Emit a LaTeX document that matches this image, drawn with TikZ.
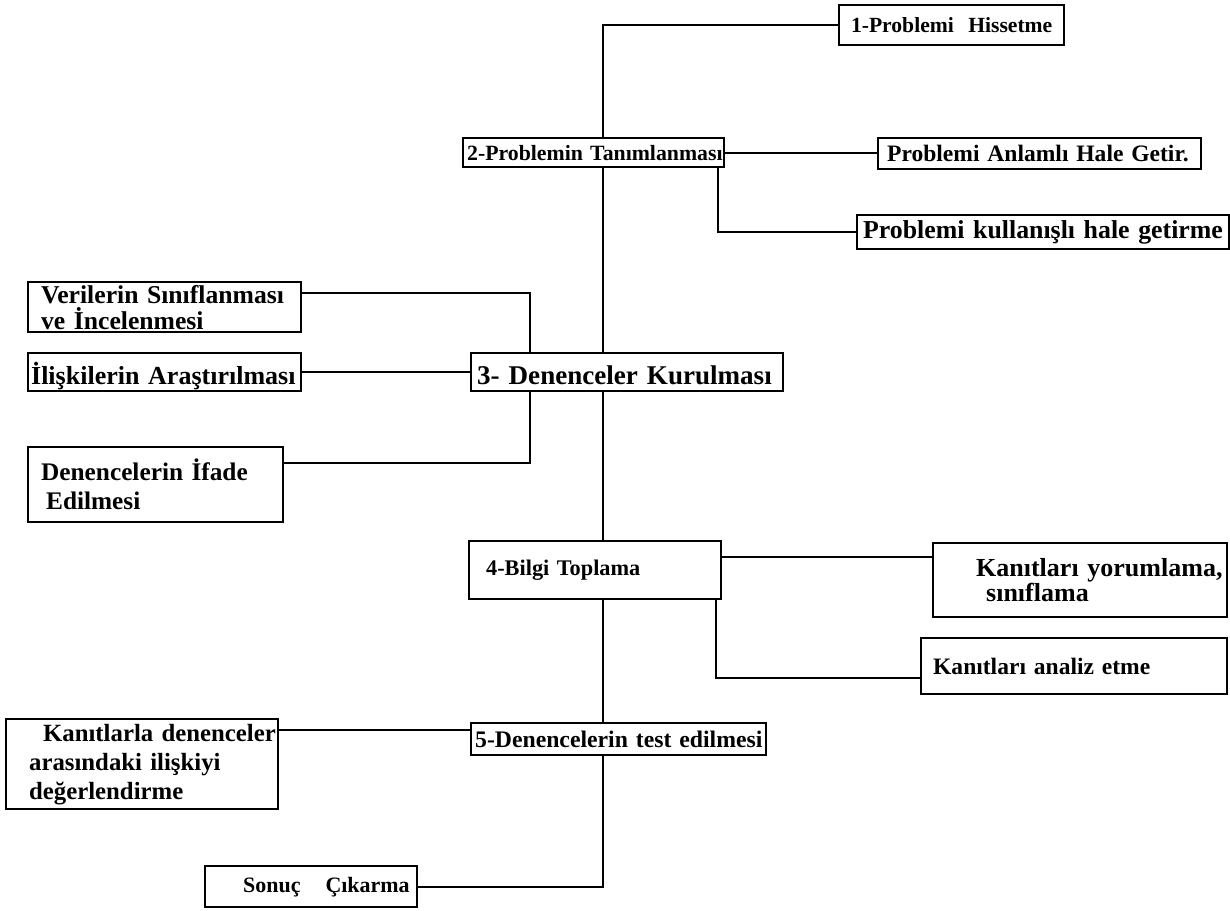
\documentclass[tikz,border=0pt]{standalone}
\usepackage{fontspec}
\setmainfont{Liberation Serif}
\usepackage{tikz}
\usetikzlibrary{calc}

\begin{document}
\begin{tikzpicture}[every node/.style={font=\fontsize{12.4}{16}\selectfont\bfseries}, fs/.style 2 args={font=\fontsize{#1}{#2}\selectfont\bfseries}, stp/.style={draw,line width=1.3pt,anchor=north west,inner sep=0pt,align=left}, lnk/.style={line width=1.3pt}]
\useasboundingbox (0,0) rectangle (24.6,-18.2);
\coordinate (spine) at (12.06,0);
\coordinate (kx) at (14.36,0);
\coordinate (lx) at (10.6,0);
\coordinate (ax) at (14.32,0);
\node[stp,fs={12.3}{16},minimum width=4.5cm,minimum height=0.8cm,text width=4.5cm,align=center] (p1) at (16.76,-0.08) {1-Problemi\ \ Hissetme};
\node[stp,minimum height=0.58cm,text width=5.22cm] (p2) at (9.24,-2.74) {\hspace*{0.08cm}\mbox{2-Problemin Tanımlanması}};
\node[stp,fs={13.4}{16},minimum height=0.62cm,text width=6.46cm] (anl) at (17.54,-2.74) {\hspace*{0.18cm}\mbox{Problemi Anlamlı Hale Getir.}};
\node[stp,fs={14.7}{18},minimum height=0.68cm,text width=7.44cm] (kul) at (17.12,-4.28) {\hspace*{0.12cm}\mbox{Problemi kullanışlı hale getirme}};
\node[stp,fs={14.6}{14.8},minimum height=1.0cm,text width=5.46cm] (ver) at (0.54,-5.62) {\hspace*{0.26cm}\mbox{Verilerin Sınıflanması}\\\hspace*{0.26cm}ve İncelenmesi};
\node[stp,fs={14.8}{18},minimum height=0.76cm,text width=5.46cm,text height=0.62cm,text depth=0.14cm] (ili) at (0.54,-7.04) {\hspace*{0.06cm}\mbox{İlişkilerin Araştırılması}};
\node[stp,fs={15.4}{18},minimum height=0.76cm,text width=6.24cm,text height=0.62cm,text depth=0.14cm] (p3) at (9.4,-7.04) {\hspace*{0.12cm}\mbox{3- Denenceler Kurulması}};
\node[stp,fs={14.4}{16.5},minimum height=1.5cm,text width=5.1cm] (ifa) at (0.54,-8.92) {\hspace*{0.26cm}\mbox{Denencelerin İfade}\\\hspace*{0.36cm}Edilmesi};
\node[stp,fs={12.7}{16},minimum height=1.16cm,text width=5.04cm] (p4) at (9.36,-10.8) {\hspace*{0.34cm}\mbox{4-Bilgi Toplama}};
\node[stp,fs={14.8}{14.2},minimum height=1.48cm,text width=5.88cm] (yor) at (18.64,-10.84) {\hspace*{0.86cm}\mbox{Kanıtları\ yorumlama,}\\\hspace*{1.06cm}sınıflama};
\node[stp,fs={13.4}{16},minimum height=1.12cm,text width=6.12cm] (ana) at (18.4,-12.74) {\hspace*{0.24cm}\mbox{Kanıtları analiz etme}};
\node[stp,fs={13.5}{16},minimum height=0.64cm,text width=5.9cm] (p5) at (9.4,-14.44) {\hspace*{0.08cm}\mbox{5-Denencelerin test edilmesi}};
\node[stp,fs={14.1}{16.5},minimum height=1.8cm,text width=5.44cm] (kan) at (0.1,-14.36) {\hspace*{0.74cm}\mbox{Kanıtlarla denenceler}\\\hspace*{0.46cm}\mbox{arasındaki ilişkiyi}\\\hspace*{0.46cm}değerlendirme};
\node[stp,fs={12.5}{16},minimum height=0.82cm,text width=4.24cm] (son) at (4.08,-17.3) {\hspace*{0.76cm}\mbox{Sonuç\hspace*{0.5cm}Çıkarma}};
\draw[lnk] (p1.west) -| (p2.north -| spine);
\draw[lnk] (p2.east) -- (p2.east -| anl.west);
\draw[lnk] (p2.south -| kx) |- (kul.west);
\draw[lnk] (p2.south -| spine) -- (p3.north -| spine);
\draw[lnk] ($(ver.north east)+(0,-0.24)$) -| (p3.north -| lx);
\draw[lnk] (ili.east) -- (p3.west);
\draw[lnk] (p3.south -| lx) |- ($(ifa.north east)+(0,-0.34)$);
\draw[lnk] (p3.south -| spine) -- (p4.north -| spine);
\draw[lnk] ($(p4.north east)+(0,-0.34)$) coordinate (q) -- (q -| yor.west);
\draw[lnk] (p4.south -| ax) |- ($(ana.south west)+(0,0.34)$);
\draw[lnk] (p4.south -| spine) -- (p5.north -| spine);
\draw[lnk] ($(p5.north west)+(0,-0.16)$) coordinate (r) -- (r -| kan.east);
\draw[lnk] (p5.south -| spine) |- (son.east);
\end{tikzpicture}
\end{document}
